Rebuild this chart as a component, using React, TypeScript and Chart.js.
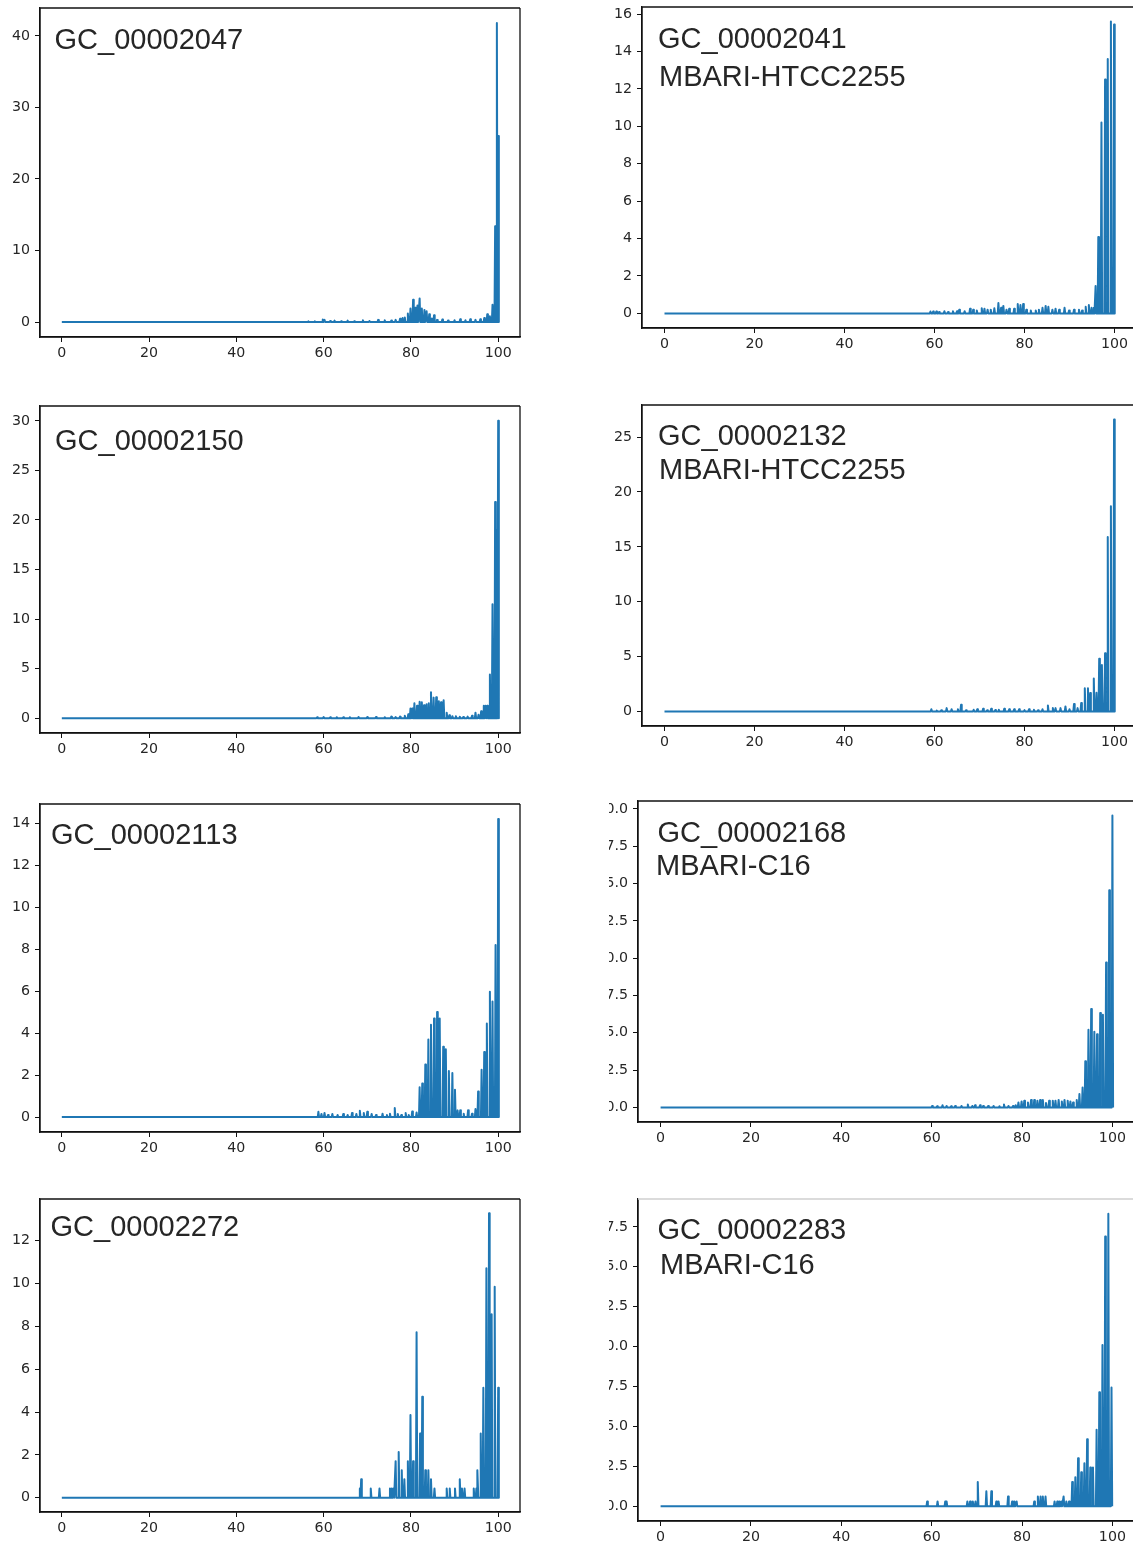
import React, { useEffect, useRef } from "react";
import { Chart, registerables } from "chart.js";

Chart.register(...registerables);

// ---------- data ----------
const xTicks = [0, 20, 40, 60, 80, 100];

const gc2047: [number, number][] = [
  [56.5, 0.1], [58, 0.1], [59.8, 0.35], [60.2, 0.3], [61.5, 0.15], [62.5, 0.2], [64, 0.1], [65.5, 0.2],
  [67, 0.1], [69, 0.25], [70.5, 0.15], [72.5, 0.3], [74, 0.25], [75.5, 0.2], [76.5, 0.3], [77.5, 0.45],
  [78.1, 0.56], [78.6, 0.65], [79.3, 1.2], [79.9, 1.9], [80.5, 3.1], [81, 2.0], [81.5, 2.3], [82, 3.3],
  [82.5, 1.9], [83.1, 1.7], [83.6, 1.5], [84.2, 1.1], [84.8, 0.5], [85.3, 0.95], [86, 0.3], [87.2, 0.35],
  [88.5, 0.2], [90, 0.25], [91.3, 0.4], [92.5, 0.25], [93.6, 0.4], [94.8, 0.3], [95.9, 0.4], [96.8, 0.55],
  [97.5, 1.1], [98.1, 0.8], [98.7, 2.4], [99.3, 13.4], [99.7, 41.8], [100, 26],
];
const gc2041: [number, number][] = [
  [59.1, 0.1], [59.7, 0.1], [60.4, 0.1], [61, 0.07], [62.2, 0.12], [63, 0.07], [64.1, 0.12], [65, 0.12],
  [65.5, 0.2], [66.7, 0.12], [67.9, 0.25], [68.6, 0.2], [69.4, 0.15], [70.5, 0.27], [71.1, 0.25], [71.8, 0.2],
  [72.5, 0.2], [73.3, 0.27], [74.2, 0.55], [74.8, 0.3], [75.3, 0.4], [76, 0.2], [76.6, 0.25], [77.7, 0.25],
  [78.5, 0.5], [79.1, 0.45], [79.7, 0.5], [80.4, 0.2], [81.4, 0.15], [82.5, 0.15], [83.2, 0.2], [84, 0.3],
  [84.7, 0.4], [85.3, 0.35], [86.2, 0.2], [86.9, 0.25], [87.7, 0.2], [88.9, 0.3], [89.9, 0.15], [91, 0.2],
  [92.1, 0.2], [92.8, 0.15], [93.6, 0.35], [94.3, 0.45], [94.9, 0.3], [95.4, 0.3], [95.8, 1.46], [96.4, 4.09],
  [97.1, 10.2], [97.9, 12.5], [98.5, 13.6], [99.2, 15.6], [99.9, 15.45],
];
const gc2150: [number, number][] = [
  [58.5, 0.08], [60, 0.1], [61.5, 0.08], [63, 0.1], [64.5, 0.08], [66, 0.1], [68, 0.12], [70, 0.1],
  [72, 0.12], [74, 0.1], [75.5, 0.15], [76.5, 0.1], [77.5, 0.15], [78.6, 0.23], [79.4, 0.4], [79.9, 0.97],
  [80.3, 0.97], [80.8, 1.5], [81.4, 1.24], [82, 1.65], [82.5, 1.6], [83, 1.3], [83.6, 1.4], [84.1, 1.5],
  [84.6, 2.6], [85.2, 2.07], [85.8, 2.1], [86.4, 1.7], [86.9, 1.6], [87.5, 1.8], [88.2, 0.55], [88.8, 0.3],
  [89.5, 0.2], [90.3, 0.2], [91.2, 0.15], [92, 0.12], [93, 0.15], [94, 0.25], [94.8, 0.55], [95.5, 0.35],
  [96.1, 0.7], [96.7, 1.24], [97.1, 1.24], [97.5, 1.24], [98.1, 4.4], [98.7, 11.5], [99.3, 21.8],
  [99.65, 19.0], [100, 30.0],
];
const gc2132: [number, number][] = [
  [59.3, 0.2], [60.5, 0.08], [61.5, 0.1], [62.7, 0.3], [63.8, 0.2], [65.2, 0.2], [65.9, 0.6], [67, 0.1],
  [68.7, 0.15], [69.5, 0.2], [70.8, 0.25], [71.7, 0.1], [72.6, 0.25], [73.5, 0.12], [74.3, 0.15], [75.5, 0.25],
  [76.6, 0.2], [77.7, 0.2], [78.8, 0.2], [80, 0.12], [81, 0.2], [82.1, 0.15], [83, 0.1], [84, 0.2],
  [85.2, 0.55], [86.3, 0.3], [86.9, 0.3], [88, 0.3], [89.1, 0.45], [90, 0.2], [91, 0.67], [91.8, 0.3],
  [92.6, 0.76], [93.4, 2.1], [94.1, 2.1], [94.6, 1.67], [95.4, 3.0], [96, 1.7], [96.6, 4.8], [97.2, 4.24],
  [97.9, 5.3], [98.5, 15.9], [99.2, 18.7], [99.9, 26.6],
];
const gc2113: [number, number][] = [
  [58.8, 0.25], [59.5, 0.15], [60.2, 0.2], [61, 0.1], [62, 0.15], [63.2, 0.1], [64.5, 0.15], [65.5, 0.1],
  [66.5, 0.2], [67.5, 0.15], [68.3, 0.3], [69.2, 0.2], [70, 0.25], [71, 0.15], [72, 0.1], [73.5, 0.16],
  [74.5, 0.1], [75.2, 0.16], [76.3, 0.43], [77, 0.15], [77.8, 0.1], [78.8, 0.19], [79.5, 0.1], [80.3, 0.27],
  [81.3, 0.22], [82, 1.42], [82.6, 1.6], [83.3, 2.5], [84, 3.7], [84.6, 4.4], [85.3, 4.7], [86, 5.0],
  [86.6, 4.7], [87.4, 3.35], [88, 3.23], [88.7, 2.2], [89.5, 2.1], [90.1, 1.3], [90.7, 0.32], [91.3, 0.32],
  [92.1, 0.16], [93.1, 0.32], [94, 0.16], [94.8, 0.38], [95.4, 1.22], [96.2, 2.25], [96.8, 3.1],
  [97.4, 4.46], [98.1, 5.97], [98.7, 5.5], [99.4, 8.2], [100, 14.2],
];
const gc2168: [number, number][] = [
  [60.1, 0.1], [61.2, 0.08], [62.4, 0.15], [63.3, 0.1], [64.3, 0.08], [65.2, 0.1], [66.6, 0.1], [68, 0.2],
  [69, 0.1], [69.6, 0.15], [70.7, 0.15], [71.4, 0.1], [72.5, 0.1], [73.7, 0.1], [75, 0.08], [76, 0.2],
  [77, 0.1], [78, 0.1], [78.6, 0.15], [79.2, 0.33], [79.9, 0.4], [80.5, 0.45], [81.3, 0.33], [82, 0.5],
  [82.7, 0.5], [83.4, 0.45], [84, 0.5], [84.6, 0.5], [85.3, 0.3], [86, 0.45], [86.8, 0.45], [87.4, 0.45],
  [88.1, 0.5], [88.8, 0.4], [89.4, 0.5], [90.1, 0.45], [90.7, 0.4], [91.3, 0.33], [92.1, 0.5], [92.7, 0.9],
  [93.4, 1.33], [94, 3.1], [94.7, 5.2], [95.3, 6.6], [96, 5.07], [96.6, 4.9], [97.3, 6.33], [97.9, 6.2],
  [98.6, 9.7], [99.3, 14.55], [100, 19.55],
];
const gc2272: [number, number][] = [
  [68.3, 0.43], [68.6, 0.86], [70.8, 0.43], [72.8, 0.43], [75.2, 0.43], [75.6, 0.43], [76.0, 0.43],
  [76.5, 1.71], [77.2, 2.14], [77.9, 1.29], [78.5, 0.86], [79.3, 1.71], [79.9, 3.86], [80.5, 1.71],
  [81.3, 7.72], [82.1, 3.0], [82.6, 4.72], [83.3, 1.29], [84.0, 1.29], [84.6, 0.86], [85.4, 0.43],
  [88.2, 0.43], [88.9, 0.43], [90.1, 0.43], [91.2, 0.86], [91.7, 0.43], [92.3, 0.43], [94.4, 0.43],
  [95.0, 0.43], [95.3, 1.29], [96.0, 3.0], [96.6, 5.14], [97.3, 10.71], [97.9, 13.28], [98.5, 8.56],
  [99.2, 9.85], [100, 5.14],
];
const gc2283: [number, number][] = [
  [59.0, 0.31], [61.3, 0.31], [63.0, 0.31], [63.3, 0.31], [67.9, 0.31], [68.5, 0.31], [69.1, 0.31],
  [69.7, 0.31], [70.2, 1.52], [72.1, 0.94], [73.2, 0.94], [74.3, 0.31], [74.8, 0.31], [76.9, 0.62],
  [77.8, 0.31], [78.3, 0.31], [78.8, 0.31], [82.7, 0.31], [83.5, 0.62], [84.1, 0.62], [84.6, 0.62],
  [85.2, 0.62], [87.2, 0.31], [87.8, 0.31], [88.3, 0.31], [88.7, 0.31], [89.2, 0.62], [89.8, 0.31],
  [90.4, 0.31], [91.1, 1.52], [91.8, 1.83], [92.4, 3.02], [93.1, 2.13], [93.8, 2.7], [94.4, 4.2],
  [95.1, 2.44], [95.7, 2.44], [96.5, 4.8], [97.1, 7.15], [97.8, 10.1], [98.4, 16.9], [99.1, 18.33],
  [99.8, 7.44],
];

const ticks2047 = [0, 10, 20, 30, 40];
const ticks2041 = [0, 2, 4, 6, 8, 10, 12, 14, 16];
const ticks2150 = [0, 5, 10, 15, 20, 25, 30];
const ticks2132 = [0, 5, 10, 15, 20, 25];
const ticks2113 = [0, 2, 4, 6, 8, 10, 12, 14];
const ticks2168 = [0, 2.5, 5, 7.5, 10, 12.5, 15, 17.5, 20];
const ticks2272 = [0, 2, 4, 6, 8, 10, 12];
const ticks2283 = [0, 2.5, 5, 7.5, 10, 12.5, 15, 17.5];

const title2047 = ["GC_00002047"];
const title2041 = ["GC_00002041", "MBARI-HTCC2255"];
const title2150 = ["GC_00002150"];
const title2132 = ["GC_00002132", "MBARI-HTCC2255"];
const title2113 = ["GC_00002113"];
const title2168 = ["GC_00002168", "MBARI-C16"];
const title2272 = ["GC_00002272"];
const title2283 = ["GC_00002283", "MBARI-C16"];

// ---------- layout ----------
const PAD_L = 70;
const PAD_T = 14;
const PAD_R = 10;
const PAD_B = 40;
const RIGHT_CLIP = 609;
const HALF_W = 0.15;

type Box = { l: number; t: number; r: number; b: number };
type Panel = {
  spikes: [number, number][];
  yTicks: number[];
  decimals: number;
  title: string[];
  textPos: [number, number][];
  box: Box;
  right: boolean;
  topColor?: string;
};

const panels: Panel[] = [
  { spikes: gc2047, yTicks: ticks2047, decimals: 0, title: title2047, textPos: [[14.5, 40.5]],
    box: { l: 40, t: 8, r: 520, b: 337 }, right: false },
  { spikes: gc2041, yTicks: ticks2041, decimals: 0, title: title2041, textPos: [[16, 41], [17, 78.5]],
    box: { l: 642, t: 7, r: 1137, b: 328 }, right: true },
  { spikes: gc2150, yTicks: ticks2150, decimals: 0, title: title2150, textPos: [[15, 43.5]],
    box: { l: 40, t: 406, r: 520, b: 733 }, right: false },
  { spikes: gc2132, yTicks: ticks2132, decimals: 0, title: title2132, textPos: [[16, 39.5], [17, 73.5]],
    box: { l: 642, t: 405, r: 1137, b: 726 }, right: true },
  { spikes: gc2113, yTicks: ticks2113, decimals: 0, title: title2113, textPos: [[11, 39.5]],
    box: { l: 40, t: 804, r: 520, b: 1132 }, right: false },
  { spikes: gc2168, yTicks: ticks2168, decimals: 1, title: title2168, textPos: [[19.5, 41], [18, 73.5]],
    box: { l: 638, t: 801, r: 1135, b: 1122 }, right: true },
  { spikes: gc2272, yTicks: ticks2272, decimals: 0, title: title2272, textPos: [[10.5, 36.5]],
    box: { l: 40, t: 1199, r: 520, b: 1512 }, right: false },
  { spikes: gc2283, yTicks: ticks2283, decimals: 1, title: title2283, textPos: [[19.5, 39.5], [22, 74.5]],
    box: { l: 638, t: 1199, r: 1135, b: 1521 }, right: true, topColor: "#cfcfcf" },
];

const tickFont = { family: "'DejaVu Sans', sans-serif", size: 14.2 };

function PanelChart({ p }: { p: Panel }) {
  const ref = useRef<HTMLCanvasElement | null>(null);
  const w = p.box.r - p.box.l + PAD_L + PAD_R;
  const h = p.box.b - p.box.t + PAD_T + PAD_B;
  const offsetX = p.right ? RIGHT_CLIP : 0;

  useEffect(() => {
    if (!ref.current) return;
    const maxY = Math.max(...p.spikes.map((s) => s[1]));
    const pts: { x: number; y: number }[] = [{ x: 0, y: 0 }];
    p.spikes.forEach(([sx, sy]) => {
      pts.push({ x: sx - HALF_W, y: 0 }, { x: sx, y: sy }, { x: sx + HALF_W, y: 0 });
    });

    const frame = {
      id: "frame",
      afterDraw(chart: any) {
        const { ctx, chartArea: a } = chart;
        ctx.save();
        ctx.lineWidth = 1.3;
        ctx.strokeStyle = "#111";
        ctx.beginPath();
        ctx.moveTo(a.left, a.top);
        ctx.lineTo(a.left, a.bottom);
        ctx.lineTo(a.right, a.bottom);
        ctx.lineTo(a.right, a.top);
        ctx.stroke();
        ctx.strokeStyle = p.topColor || "#111";
        ctx.beginPath();
        ctx.moveTo(a.left, a.top);
        ctx.lineTo(a.right, a.top);
        ctx.stroke();
        ctx.fillStyle = "#262626";
        ctx.font = "29px 'Liberation Sans', Arial, sans-serif";
        ctx.textBaseline = "alphabetic";
        ctx.textAlign = "left";
        p.title.forEach((t, i) => {
          const [dx, dy] = p.textPos[i];
          ctx.fillText(t, a.left + dx, a.top + dy);
        });
        ctx.restore();
      },
    };

    const chart = new Chart(ref.current, {
      type: "line",
      data: {
        datasets: [
          {
            data: pts,
            borderColor: "#1f77b4",
            borderWidth: 2,
            borderJoinStyle: "round",
            borderCapStyle: "butt",
            pointRadius: 0,
            fill: false,
            tension: 0,
          },
        ],
      },
      options: {
        animation: false,
        responsive: false,
        devicePixelRatio: 1,
        events: [],
        layout: { padding: { left: 0, top: PAD_T, right: PAD_R, bottom: 0 } },
        plugins: { legend: { display: false }, tooltip: { enabled: false }, title: { display: false } },
        scales: {
          x: {
            type: "linear",
            min: -5,
            max: 105,
            afterBuildTicks: (s: any) => {
              s.ticks = xTicks.map((v) => ({ value: v }));
            },
            afterFit: (s: any) => {
              s.height = PAD_B;
            },
            grid: { display: true, drawOnChartArea: false, drawTicks: true, tickLength: 5, color: "#111", lineWidth: 1 },
            border: { display: true, color: "#111", width: 1.3 },
            ticks: {
              color: "#262626",
              font: tickFont,
              padding: 3,
              maxRotation: 0,
              autoSkip: false,
              callback: (v: any) => String(v),
            },
          },
          y: {
            type: "linear",
            min: -0.05 * maxY,
            max: 1.05 * maxY,
            afterBuildTicks: (s: any) => {
              s.ticks = p.yTicks.map((v) => ({ value: v }));
            },
            afterFit: (s: any) => {
              s.width = PAD_L;
            },
            grid: { display: true, drawOnChartArea: false, drawTicks: true, tickLength: 5, color: "#111", lineWidth: 1 },
            border: { display: true, color: "#111", width: 1.3 },
            ticks: {
              color: "#262626",
              font: tickFont,
              padding: 5,
              autoSkip: false,
              callback: (v: any) => Number(v).toFixed(p.decimals),
            },
          },
        },
      },
      plugins: [frame],
    } as any);
    return () => chart.destroy();
  }, []);

  return (
    <canvas
      ref={ref}
      width={w}
      height={h}
      style={{
        position: "absolute",
        left: p.box.l - PAD_L - offsetX,
        top: p.box.t - PAD_T,
        width: w,
        height: h,
      }}
    />
  );
}

export default function App() {
  return (
    <div
      style={{
        position: "absolute",
        left: 0,
        top: 0,
        width: 1133,
        height: 1544,
        overflow: "hidden",
        background: "#fff",
      }}
    >
      {panels
        .filter((p) => !p.right)
        .map((p, i) => (
          <PanelChart key={"l" + i} p={p} />
        ))}
      <div
        style={{
          position: "absolute",
          left: RIGHT_CLIP,
          top: 0,
          width: 1133 - RIGHT_CLIP,
          height: 1544,
          overflow: "hidden",
        }}
      >
        {panels
          .filter((p) => p.right)
          .map((p, i) => (
            <PanelChart key={"r" + i} p={p} />
          ))}
      </div>
    </div>
  );
}
